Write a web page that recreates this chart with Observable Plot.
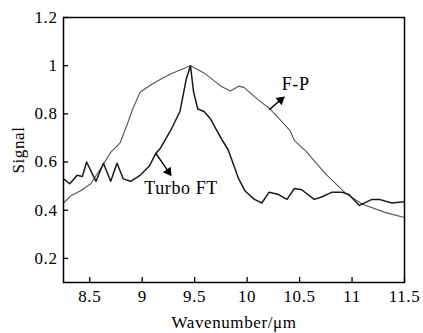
<!DOCTYPE html>
<html>
<head>
<meta charset="utf-8">
<script src="https://cdn.jsdelivr.net/npm/d3@7"></script>
<script src="https://cdn.jsdelivr.net/npm/@observablehq/plot@0.6"></script>
<style>
  html, body { margin: 0; padding: 0; background: #fff; }
  svg, svg text { font-family: "Liberation Serif", "DejaVu Serif", serif !important; }
</style>
</head>
<body>
<div id="chart"></div>
<script>
const fpX = [8.25, 8.32, 8.41, 8.51, 8.60, 8.70, 8.79, 8.86, 8.91, 8.98, 9.08, 9.18, 9.27, 9.35, 9.46, 9.59, 9.75, 9.84, 9.92, 9.97, 10.10, 10.22, 10.41, 10.45, 10.56, 10.75, 10.94, 11.10, 11.32, 11.5];
const fpY = [0.43, 0.46, 0.48, 0.51, 0.57, 0.64, 0.68, 0.76, 0.82, 0.89, 0.92, 0.945, 0.965, 0.98, 1.0, 0.97, 0.915, 0.895, 0.915, 0.91, 0.86, 0.82, 0.73, 0.69, 0.645, 0.55, 0.47, 0.425, 0.39, 0.37];

const ftX = [8.25, 8.31, 8.38, 8.43, 8.47, 8.56, 8.63, 8.70, 8.76, 8.82, 8.89, 8.98, 9.07, 9.13, 9.17, 9.27, 9.36, 9.40, 9.42, 9.46, 9.49, 9.53, 9.59, 9.65, 9.70, 9.75, 9.82, 9.87, 9.92, 9.98, 10.07, 10.14, 10.21, 10.30, 10.38, 10.45, 10.52, 10.64, 10.71, 10.81, 10.90, 10.97, 11.07, 11.19, 11.26, 11.38, 11.5];
const ftY = [0.53, 0.51, 0.545, 0.54, 0.60, 0.52, 0.595, 0.52, 0.595, 0.53, 0.52, 0.545, 0.585, 0.636, 0.655, 0.73, 0.81, 0.90, 0.945, 1.0, 0.89, 0.82, 0.81, 0.78, 0.74, 0.70, 0.65, 0.59, 0.53, 0.48, 0.445, 0.43, 0.475, 0.465, 0.445, 0.49, 0.485, 0.445, 0.455, 0.475, 0.475, 0.465, 0.42, 0.445, 0.445, 0.43, 0.435];

const xTicks = [8.5, 9, 9.5, 10, 10.5, 11, 11.5];
const yTicks = [0.2, 0.4, 0.6, 0.8, 1, 1.2];

const labelNames = ["F-P", "Turbo FT"];
const labelX = [10.33, 9.02];
const labelY = [0.925, 0.49];
const arrowX1 = [10.21, 9.13];
const arrowY1 = [0.817, 0.636];
const arrowX2 = [10.32, 9.25];
const arrowY2 = [0.858, 0.56];
const arrowAngle = [50, 145];

const fp = fpX.map((x, i) => ({x, y: fpY[i]}));
const ft = ftX.map((x, i) => ({x, y: ftY[i]}));
const labels = labelNames.map((t, i) => ({t, x: labelX[i], y: labelY[i]}));
const arrows = labelNames.map((t, i) => ({x1: arrowX1[i], y1: arrowY1[i], x2: arrowX2[i], y2: arrowY2[i], a: arrowAngle[i]}));

const chart = Plot.plot({
  width: 423,
  height: 333,
  marginLeft: 63,
  marginRight: 19,
  marginTop: 17,
  marginBottom: 51,
  style: "font-family: 'Liberation Serif', 'DejaVu Serif', serif; font-size: 17px; letter-spacing: 0.6px; background: #fff; color: #000;",
  x: {domain: [8.25, 11.5], label: "Wavenumber/μm"},
  y: {domain: [0.1, 1.2], label: "Signal"},
  marks: [
    Plot.axisX({ticks: xTicks, tickFormat: d => String(d), tickSize: -5, tickPadding: 12, label: "Wavenumber/μm", labelArrow: "none", labelAnchor: "center", labelOffset: 45, strokeWidth: 1.3, fontFamily: "Liberation Serif"}),
    Plot.axisY({ticks: yTicks, tickFormat: d => String(d), tickSize: -5, tickPadding: 11, label: "Signal", labelArrow: "none", labelAnchor: "center", labelOffset: 52, strokeWidth: 1.3, fontFamily: "Liberation Serif"}),
    Plot.line(fp, {x: "x", y: "y", stroke: "#555", strokeWidth: 1.1}),
    Plot.line(ft, {x: "x", y: "y", stroke: "#1a1a1a", strokeWidth: 1.5}),
    Plot.link(arrows, {x1: "x1", y1: "y1", x2: "x2", y2: "y2", stroke: "#000", strokeWidth: 1.4}),
    Plot.dot(arrows, {x: "x2", y: "y2", symbol: "triangle", rotate: "a", r: 3.5, fill: "#000", stroke: null}),
    Plot.text(labels, {x: "x", y: "y", text: "t", textAnchor: "start", fontSize: 18, fill: "#000", fontFamily: "Liberation Serif"}),
    Plot.frame({stroke: "#000", strokeWidth: 1.5})
  ]
});
document.getElementById("chart").appendChild(chart);
</script>
</body>
</html>
